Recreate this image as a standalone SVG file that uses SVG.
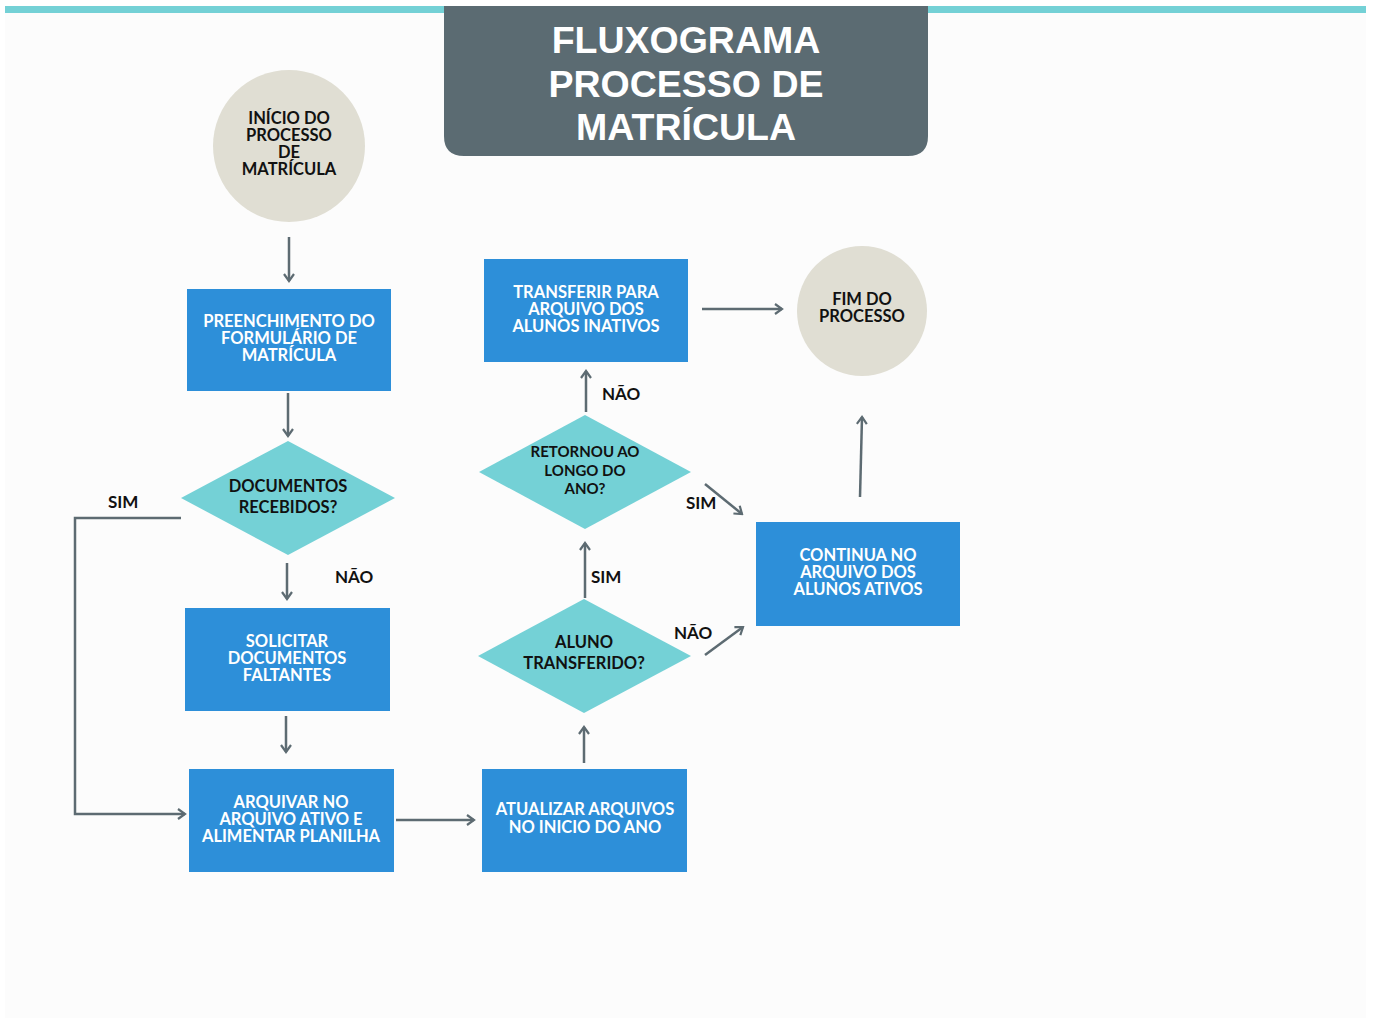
<svg xmlns="http://www.w3.org/2000/svg" width="1373" height="1018" viewBox="0 0 1373 1018">
<defs>
<style>
.box{fill:#2d8fd9}
.dia{fill:#74d1d6}
.circ{fill:#e0ded3}
.wt{fill:#ffffff;font-family:Lato,"Open Sans",sans-serif;font-weight:700;font-size:16.5px;text-anchor:middle}
.bt{fill:#111111;font-family:Lato,"Open Sans",sans-serif;font-weight:700;font-size:16.5px;text-anchor:middle}
.lbl{fill:#111111;font-family:Lato,"Open Sans",sans-serif;font-weight:700;font-size:17px}
.title{fill:#ffffff;font-family:"Liberation Sans",Arial,sans-serif;font-weight:700;font-size:37.5px;text-anchor:middle}
.con{fill:none;stroke:#5d6b72;stroke-width:2.5}
</style>
<marker id="arr" viewBox="0 0 12 12" refX="10" refY="6" markerWidth="12" markerHeight="12" markerUnits="userSpaceOnUse" orient="auto">
<path d="M3,1 L10,6 L3,11" fill="none" stroke="#5d6b72" stroke-width="2.2"/>
</marker>
</defs>
<rect x="0" y="0" width="1373" height="1018" fill="#ffffff"/>
<rect x="5" y="6" width="1361" height="1012" fill="#fcfcfc"/>
<rect x="5" y="6" width="1361" height="7" fill="#74d1d6"/>

<g id="title">
<path d="M444,6 H928 V136 Q928,156 908,156 H464 Q444,156 444,136 Z" fill="#5b6b72"/>
<text class="title" x="686" y="53">FLUXOGRAMA</text>
<text class="title" x="686" y="97">PROCESSO DE</text>
<text class="title" x="686" y="140">MATRÍCULA</text>
</g>

<g id="inicio">
<circle class="circ" cx="289" cy="146" r="76"/>
<text class="bt" x="289" y="124">INÍCIO DO</text>
<text class="bt" x="289" y="141">PROCESSO</text>
<text class="bt" x="289" y="158">DE</text>
<text class="bt" x="289" y="175">MATRÍCULA</text>
</g>

<g id="preenchimento">
<rect class="box" x="187" y="289" width="204" height="102"/>
<text class="wt" x="289" y="327">PREENCHIMENTO DO</text>
<text class="wt" x="289" y="344">FORMULÁRIO DE</text>
<text class="wt" x="289" y="361">MATRÍCULA</text>
</g>

<g id="documentos">
<polygon class="dia" points="288,441 395,498 288,555 181,498"/>
<text class="bt" x="288" y="492">DOCUMENTOS</text>
<text class="bt" x="288" y="513">RECEBIDOS?</text>
</g>

<g id="solicitar">
<rect class="box" x="185" y="608" width="205" height="103"/>
<text class="wt" x="287" y="647">SOLICITAR</text>
<text class="wt" x="287" y="664">DOCUMENTOS</text>
<text class="wt" x="287" y="681">FALTANTES</text>
</g>

<g id="arquivar">
<rect class="box" x="189" y="769" width="205" height="103"/>
<text class="wt" x="291" y="808">ARQUIVAR NO</text>
<text class="wt" x="291" y="825">ARQUIVO ATIVO E</text>
<text class="wt" x="291" y="842">ALIMENTAR PLANILHA</text>
</g>

<g id="atualizar">
<rect class="box" x="482" y="769" width="205" height="103"/>
<text class="wt" x="585" y="815">ATUALIZAR ARQUIVOS</text>
<text class="wt" x="585" y="833">NO INICIO DO ANO</text>
</g>

<g id="transferido">
<polygon class="dia" points="584,599 691,656 584,713 478,656"/>
<text class="bt" x="584" y="648">ALUNO</text>
<text class="bt" x="584" y="669">TRANSFERIDO?</text>
</g>

<g id="retornou">
<polygon class="dia" points="585,415 691,472 585,529 479,472"/>
<text class="bt" x="585" y="457" style="font-size:15px">RETORNOU AO</text>
<text class="bt" x="585" y="476" style="font-size:15px">LONGO DO</text>
<text class="bt" x="585" y="494" style="font-size:15px">ANO?</text>
</g>

<g id="transferir">
<rect class="box" x="484" y="259" width="204" height="103"/>
<text class="wt" x="586" y="298">TRANSFERIR PARA</text>
<text class="wt" x="586" y="315">ARQUIVO DOS</text>
<text class="wt" x="586" y="332">ALUNOS INATIVOS</text>
</g>

<g id="fim">
<circle class="circ" cx="862" cy="311" r="65"/>
<text class="bt" x="862" y="305">FIM DO</text>
<text class="bt" x="862" y="322">PROCESSO</text>
</g>

<g id="continua">
<rect class="box" x="756" y="522" width="204" height="104"/>
<text class="wt" x="858" y="561">CONTINUA NO</text>
<text class="wt" x="858" y="578">ARQUIVO DOS</text>
<text class="wt" x="858" y="595">ALUNOS ATIVOS</text>
</g>

<g id="connectors">
<line class="con" x1="289" y1="237" x2="289" y2="281" marker-end="url(#arr)"/>
<line class="con" x1="288" y1="393" x2="288" y2="436" marker-end="url(#arr)"/>
<line class="con" x1="287" y1="563" x2="287" y2="599" marker-end="url(#arr)"/>
<line class="con" x1="286" y1="716" x2="286" y2="752" marker-end="url(#arr)"/>
<polyline class="con" points="181,518 75,518 75,814 185,814" marker-end="url(#arr)"/>
<line class="con" x1="396" y1="820" x2="474" y2="820" marker-end="url(#arr)"/>
<line class="con" x1="584" y1="763" x2="584" y2="727" marker-end="url(#arr)"/>
<line class="con" x1="585" y1="598" x2="585" y2="543" marker-end="url(#arr)"/>
<line class="con" x1="705" y1="655" x2="743" y2="627" marker-end="url(#arr)"/>
<line class="con" x1="705" y1="484" x2="742" y2="514" marker-end="url(#arr)"/>
<line class="con" x1="586" y1="412" x2="586" y2="371" marker-end="url(#arr)"/>
<line class="con" x1="702" y1="309" x2="782" y2="309" marker-end="url(#arr)"/>
<line class="con" x1="860" y1="497" x2="862" y2="417" marker-end="url(#arr)"/>
<text class="lbl" x="108" y="508">SIM</text>
<text class="lbl" x="335" y="583">NÃO</text>
<text class="lbl" x="591" y="583">SIM</text>
<text class="lbl" x="674" y="639">NÃO</text>
<text class="lbl" x="686" y="509">SIM</text>
<text class="lbl" x="602" y="400">NÃO</text>
</g>
</svg>
